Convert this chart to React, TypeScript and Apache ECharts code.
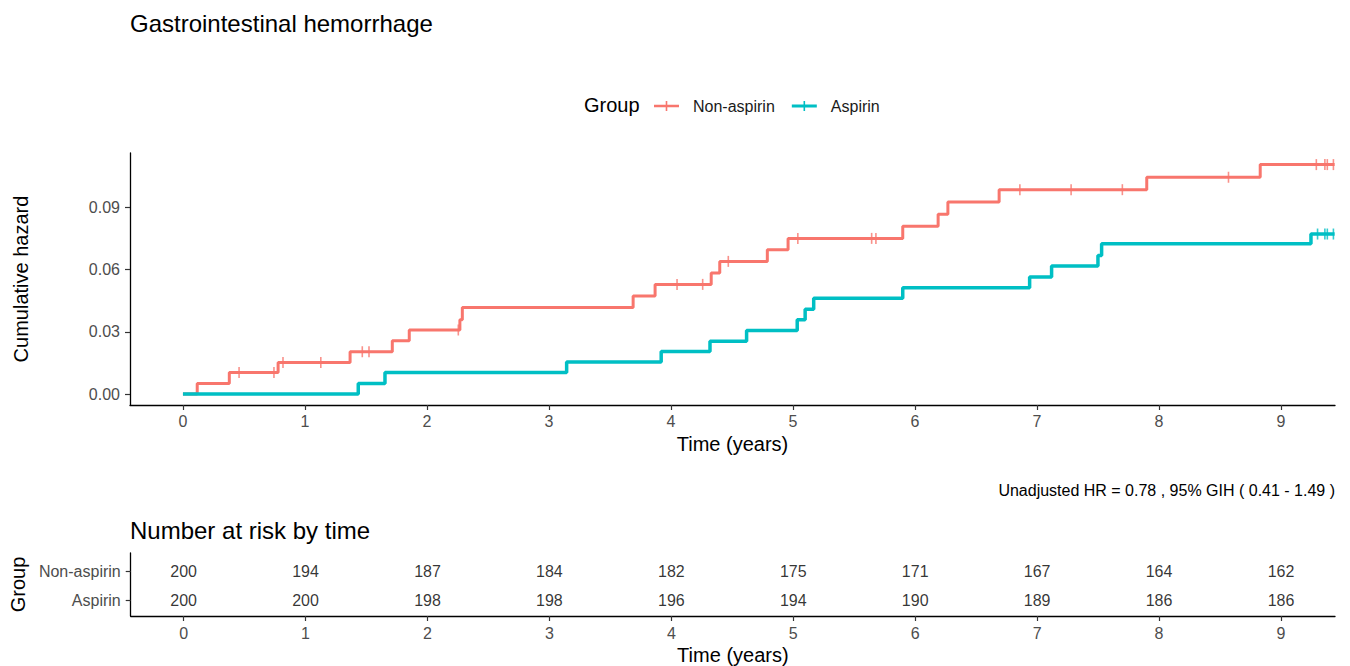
import React, { useEffect, useRef } from "react";
import * as echarts from "echarts";

const groups = ["Non-aspirin", "Aspirin"];
const xTicks = [0, 1, 2, 3, 4, 5, 6, 7, 8, 9];
const yTicks = [0, 0.03, 0.06, 0.09];
const followUpEnd = 9.44;

const nonAspirinEventTimes = [0.117, 0.38, 0.78, 1.37, 1.716, 1.855, 2.27, 2.29, 3.69, 3.87, 4.33, 4.4, 4.79, 4.96, 5.9, 6.19, 6.27, 6.69, 7.9, 8.83];
const nonAspirinHazard = [0.0051, 0.0104, 0.0152, 0.0204, 0.0257, 0.0309, 0.0358, 0.0417, 0.0473, 0.0529, 0.0584, 0.064, 0.0696, 0.0751, 0.0809, 0.0868, 0.0927, 0.0986, 0.1046, 0.1107];
const nonAspirinCensorTimes = [0.46, 0.746, 0.82, 1.13, 1.47, 1.525, 2.257, 4.05, 4.26, 4.47, 5.04, 5.645, 5.68, 6.86, 7.28, 7.7, 8.57, 9.29, 9.36, 9.38, 9.43];

const aspirinEventTimes = [1.437, 1.656, 3.145, 3.92, 4.32, 4.62, 5.035, 5.1, 5.17, 5.9, 6.94, 7.12, 7.5, 7.53, 9.246];
const aspirinHazard = [0.0051, 0.0104, 0.0154, 0.0205, 0.0255, 0.0306, 0.0358, 0.0409, 0.0462, 0.0513, 0.0565, 0.0618, 0.0669, 0.0725, 0.0772];
const aspirinCensorTimes = [9.3, 9.36, 9.38, 9.43];

const riskTimes = [0, 1, 2, 3, 4, 5, 6, 7, 8, 9];
const riskNonAspirin = [200, 194, 187, 184, 182, 175, 171, 167, 164, 162];
const riskAspirin = [200, 200, 198, 198, 196, 194, 190, 189, 186, 186];

const RED = "#F8766D";
const TEAL = "#00BFC4";
const FONT = "'Liberation Sans', Arial, Helvetica, sans-serif";

function stepData(times: number[], hz: number[]) {
  const d: number[][] = [[0, 0]];
  times.forEach((t, i) => d.push([t, hz[i]]));
  d.push([followUpEnd, hz[hz.length - 1]]);
  return d;
}
function valueAt(times: number[], hz: number[], t: number) {
  let v = 0;
  times.forEach((tt, i) => {
    if (tt <= t) v = hz[i];
  });
  return v;
}

const iconRed = "path://M0,3.7 L25,3.7 L25,6.3 L0,6.3 Z M11.7,0 L13.3,0 L13.3,10 L11.7,10 Z";
const iconTeal = "path://M0,3.4 L25,3.4 L25,6.6 L0,6.6 Z M11.7,0 L13.3,0 L13.3,10 L11.7,10 Z";

export default function App() {
  const ref = useRef<HTMLDivElement>(null);
  useEffect(() => {
    if (!ref.current) return;
    const chart = echarts.init(ref.current, undefined, { renderer: "svg" });
    const axisCommon = {
      axisLine: { show: true, onZero: false, lineStyle: { color: "#000", width: 1.3 } },
      axisTick: { show: true, length: 5, lineStyle: { color: "#333", width: 1.2 } },
      splitLine: { show: false },
    };
    const xMin = -0.434;
    const xMax = 9.443;
    const option: any = {
      animation: false,
      textStyle: { fontFamily: FONT },
      grid: [
        { left: 130, right: 15, top: 153, height: 252 },
        { left: 130, right: 15, top: 553, height: 64 },
      ],
      xAxis: [
        {
          type: "value",
          gridIndex: 0,
          min: xMin,
          max: xMax,
          ...axisCommon,
          axisTick: { ...axisCommon.axisTick, customValues: xTicks },
          axisLabel: { customValues: xTicks, color: "#4D4D4D", fontSize: 16, margin: 8, fontFamily: FONT },
          name: "Time (years)",
          nameLocation: "middle",
          nameGap: 29,
          nameTextStyle: { fontSize: 20, color: "#000", fontFamily: FONT },
        },
        {
          type: "value",
          gridIndex: 1,
          min: xMin,
          max: xMax,
          ...axisCommon,
          axisTick: { ...axisCommon.axisTick, customValues: xTicks },
          axisLabel: { customValues: xTicks, color: "#4D4D4D", fontSize: 16, margin: 9, fontFamily: FONT },
          name: "Time (years)",
          nameLocation: "middle",
          nameGap: 29,
          nameTextStyle: { fontSize: 20, color: "#000", fontFamily: FONT },
        },
      ],
      yAxis: [
        {
          type: "value",
          gridIndex: 0,
          min: -0.0053,
          max: 0.1163,
          ...axisCommon,
          axisTick: { ...axisCommon.axisTick, customValues: yTicks },
          axisLabel: {
            customValues: yTicks,
            color: "#4D4D4D",
            fontSize: 16,
            margin: 10,
            fontFamily: FONT,
            formatter: (v: number) => v.toFixed(2),
          },
          name: "Cumulative hazard",
          nameLocation: "middle",
          nameGap: 99,
          nameTextStyle: { fontSize: 20, color: "#000", fontFamily: FONT },
        },
        {
          type: "value",
          gridIndex: 1,
          min: 0.35,
          max: 2.55,
          inverse: true,
          ...axisCommon,
          axisTick: { ...axisCommon.axisTick, customValues: [1, 2] },
          axisLabel: {
            customValues: [1, 2],
            color: "#4D4D4D",
            fontSize: 16,
            margin: 10,
            fontFamily: FONT,
            formatter: (v: number) => groups[Math.round(v) - 1],
          },
          name: "Group",
          nameLocation: "middle",
          nameGap: 101,
          nameTextStyle: { fontSize: 20, color: "#000", fontFamily: FONT },
        },
      ],
      legend: {
        left: 654,
        top: 98,
        padding: 0,
        itemWidth: 25,
        itemHeight: 10,
        itemGap: 17,
        textStyle: { fontSize: 16, color: "#1A1A1A", fontFamily: FONT, padding: [0, 0, 0, 9] },
        data: [
          { name: groups[0], icon: iconRed, itemStyle: { color: RED } },
          { name: groups[1], icon: iconTeal, itemStyle: { color: TEAL } },
        ],
      },
      graphic: [
        {
          type: "text",
          left: 130,
          top: 11,
          style: { text: "Gastrointestinal hemorrhage", fontSize: 24, fill: "#000", fontFamily: FONT },
        },
        {
          type: "text",
          left: 584,
          top: 95,
          style: { text: "Group", fontSize: 20, fill: "#000", fontFamily: FONT },
        },
        {
          type: "text",
          right: 15,
          top: 482,
          style: { text: "Unadjusted HR = 0.78 , 95% GIH ( 0.41 - 1.49 )", fontSize: 16, fill: "#000", fontFamily: FONT },
        },
        {
          type: "text",
          left: 130,
          top: 518,
          style: { text: "Number at risk by time", fontSize: 24, fill: "#000", fontFamily: FONT },
        },
      ],
      series: [
        {
          name: groups[0],
          type: "line",
          step: "end",
          xAxisIndex: 0,
          yAxisIndex: 0,
          showSymbol: false,
          data: stepData(nonAspirinEventTimes, nonAspirinHazard),
          lineStyle: { color: RED, width: 3 },
          itemStyle: { color: RED },
          z: 3,
        },
        {
          name: groups[1],
          type: "line",
          step: "end",
          xAxisIndex: 0,
          yAxisIndex: 0,
          showSymbol: false,
          data: stepData(aspirinEventTimes, aspirinHazard),
          lineStyle: { color: TEAL, width: 3.5 },
          itemStyle: { color: TEAL },
          z: 3,
        },
        {
          name: "Non-aspirin censored",
          type: "scatter",
          xAxisIndex: 0,
          yAxisIndex: 0,
          symbol: "rect",
          symbolSize: [1.6, 11],
          itemStyle: { color: RED },
          data: nonAspirinCensorTimes.map((t) => [t, valueAt(nonAspirinEventTimes, nonAspirinHazard, t)]),
          z: 4,
        },
        {
          name: "Aspirin censored",
          type: "scatter",
          xAxisIndex: 0,
          yAxisIndex: 0,
          symbol: "rect",
          symbolSize: [1.6, 11],
          itemStyle: { color: TEAL },
          data: aspirinCensorTimes.map((t) => [t, valueAt(aspirinEventTimes, aspirinHazard, t)]),
          z: 4,
        },
        {
          name: "risk",
          type: "scatter",
          xAxisIndex: 1,
          yAxisIndex: 1,
          symbolSize: 0,
          silent: true,
          label: {
            show: true,
            position: "inside",
            formatter: (p: any) => String(p.value[2]),
            fontSize: 16,
            color: "#000",
            fontFamily: FONT,
          },
          data: [
            ...riskTimes.map((t, i) => [t, 1, riskNonAspirin[i]]),
            ...riskTimes.map((t, i) => [t, 2, riskAspirin[i]]),
          ],
        },
      ],
    };
    chart.setOption(option);
    return () => chart.dispose();
  }, []);
  return (
    <div
      ref={ref}
      style={{ position: "fixed", left: 0, top: 0, width: 1350, height: 666, background: "#fff" }}
    />
  );
}
